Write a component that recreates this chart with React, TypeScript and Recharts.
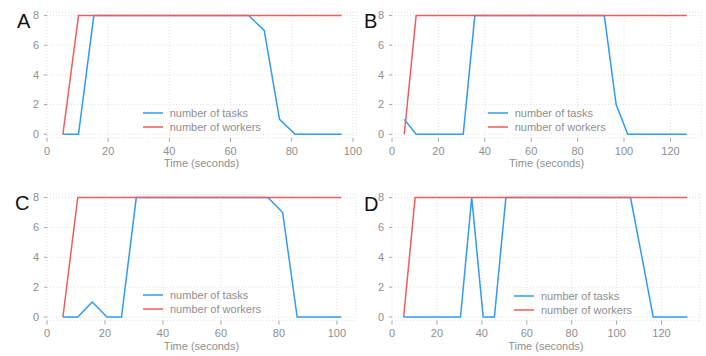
import React from "react";
import { LineChart, Line, XAxis, YAxis, CartesianGrid, Legend, Label } from "recharts";

const timesA = [5.2, 10.3, 15.3, 20.4, 25.4, 30.5, 35.6, 40.6, 45.7, 50.7, 55.8, 60.9, 65.9, 71.0, 76.0, 81.1, 86.2, 91.2, 96.3];
const tasksA = [0, 0, 8, 8, 8, 8, 8, 8, 8, 8, 8, 8, 8, 7, 1, 0, 0, 0, 0];
const workersA = [0, 8, 8, 8, 8, 8, 8, 8, 8, 8, 8, 8, 8, 8, 8, 8, 8, 8, 8];

const timesB = [5.3, 10.4, 15.4, 20.5, 25.6, 30.7, 35.7, 40.8, 45.9, 50.9, 56.0, 61.1, 66.1, 71.2, 76.3, 81.4, 86.4, 91.5, 96.6, 101.6, 106.7, 111.8, 116.8, 121.9, 127.0];
const tasksB = [1, 0, 0, 0, 0, 0, 8, 8, 8, 8, 8, 8, 8, 8, 8, 8, 8, 8, 2, 0, 0, 0, 0, 0, 0];
const workersB = [0, 8, 8, 8, 8, 8, 8, 8, 8, 8, 8, 8, 8, 8, 8, 8, 8, 8, 8, 8, 8, 8, 8, 8, 8];

const timesC = [5.5, 10.6, 15.6, 20.7, 25.7, 30.8, 35.8, 40.9, 45.9, 51.0, 56.0, 61.1, 66.1, 71.2, 76.2, 81.3, 86.3, 91.4, 96.4, 101.5];
const tasksC = [0, 0, 1, 0, 0, 8, 8, 8, 8, 8, 8, 8, 8, 8, 8, 7, 0, 0, 0, 0];
const workersC = [0, 8, 8, 8, 8, 8, 8, 8, 8, 8, 8, 8, 8, 8, 8, 8, 8, 8, 8, 8];

const timesD = [5.2, 10.3, 15.3, 20.4, 25.4, 30.5, 35.5, 40.6, 45.6, 50.7, 55.7, 60.8, 65.8, 70.9, 75.9, 81.0, 86.0, 91.1, 96.1, 101.2, 106.2, 111.3, 116.3, 121.4, 126.4, 131.5];
const tasksD = [0, 0, 0, 0, 0, 0, 8, 0, 0, 8, 8, 8, 8, 8, 8, 8, 8, 8, 8, 8, 8, 4, 0, 0, 0, 0];
const workersD = [0, 8, 8, 8, 8, 8, 8, 8, 8, 8, 8, 8, 8, 8, 8, 8, 8, 8, 8, 8, 8, 8, 8, 8, 8, 8];

const xTicks100 = [0, 20, 40, 60, 80, 100];
const xTicks120 = [0, 20, 40, 60, 80, 100, 120];
const yTicks = [0, 2, 4, 6, 8];

const BLUE = "#2f9bf2";
const RED = "#ee5d5d";
const GRAY = "#8f8f8f";
const FONT = "'Liberation Sans', Arial, sans-serif";

const panels = [
  { letter: "A", times: timesA, tasks: tasksA, workers: workersA, xMax: 101.1, xTicks: xTicks100,
    plot: { left: 46.7, top: 11.9, width: 309.3, height: 125.8 }, leg: { dx: 96, dy: 101.5 }, lab: { left: 17, top: 11.4 } },
  { letter: "B", times: timesB, tasks: tasksB, workers: workersB, xMax: 133.3, xTicks: xTicks120,
    plot: { left: 391.7, top: 11.9, width: 309.3, height: 125.8 }, leg: { dx: 96, dy: 101.5 }, lab: { left: 364, top: 11.4 } },
  { letter: "C", times: timesC, tasks: tasksC, workers: workersC, xMax: 106.6, xTicks: xTicks100,
    plot: { left: 46.7, top: 193.9, width: 309, height: 126.6 }, leg: { dx: 96.3, dy: 101.3 }, lab: { left: 15, top: 193 } },
  { letter: "D", times: timesD, tasks: tasksD, workers: workersD, xMax: 137, xTicks: xTicks120,
    plot: { left: 392.3, top: 193.9, width: 307.7, height: 126.6 }, leg: { dx: 121.7, dy: 102.3 }, lab: { left: 364, top: 193.5 } },
];

const YW = 50;
const TOP = 14;
const XH = 34;

function LegendBox({ payload }: any) {
  return (
    <div style={{ fontFamily: FONT, fontSize: 11, color: GRAY }}>
      {(payload || []).map((p: any) => (
        <div key={p.value} style={{ display: "flex", alignItems: "center", height: 14, whiteSpace: "nowrap" }}>
          <svg width={20} height={14} style={{ display: "block" }}>
            <line x1={0} x2={20} y1={7} y2={7} stroke={p.color} strokeWidth={1.5} />
          </svg>
          <span style={{ marginLeft: 7 }}>{p.value}</span>
        </div>
      ))}
    </div>
  );
}

function Panel({ cfg }: { cfg: (typeof panels)[number] }) {
  const data = cfg.times.map((t, i) => ({ t, tasks: cfg.tasks[i], workers: cfg.workers[i] }));
  const { plot } = cfg;
  const w = plot.width + YW + 8;
  const h = plot.height + TOP + 40;
  const tick = { fill: GRAY, fontSize: 11, fontFamily: FONT };
  return (
    <div style={{ position: "absolute", left: plot.left - YW, top: plot.top - TOP, width: w, height: h }}>
      <LineChart width={w} height={h} data={data} margin={{ top: TOP, right: 8, left: 0, bottom: 40 - XH }}>
        <CartesianGrid stroke="#e2e2e2" strokeDasharray="1 2" />
        <XAxis type="number" dataKey="t" domain={[0, cfg.xMax]} ticks={cfg.xTicks} height={XH}
          axisLine={false} tickLine={{ stroke: "#a8a8a8" }} tickSize={4} tickMargin={5} tick={tick} allowDataOverflow>
          <Label value="Time (seconds)" position="insideBottom" offset={5} fill={GRAY} fontSize={11} fontFamily={FONT} />
        </XAxis>
        <YAxis type="number" domain={[-0.24, 8.24]} ticks={yTicks} width={YW}
          axisLine={false} tickLine={{ stroke: "#a8a8a8" }} tickSize={3} tickMargin={5} tick={tick} />
        <Legend layout="horizontal" verticalAlign="middle" align="center" content={<LegendBox />}
          wrapperStyle={{ left: YW + cfg.leg.dx, top: TOP + cfg.leg.dy - 7, width: 160 }} />
        <Line type="linear" dataKey="tasks" name="number of tasks" stroke={BLUE} strokeWidth={1.5} dot={false} isAnimationActive={false} />
        <Line type="linear" dataKey="workers" name="number of workers" stroke={RED} strokeWidth={1.5} dot={false} isAnimationActive={false} />
      </LineChart>
    </div>
  );
}

export default function App() {
  return (
    <div style={{ position: "absolute", left: 0, top: 0, width: 706, height: 356, background: "#fff", overflow: "hidden" }}>
      {panels.map((p) => (
        <Panel key={p.letter} cfg={p} />
      ))}
      {panels.map((p) => (
        <div key={"l" + p.letter} style={{ position: "absolute", left: p.lab.left, top: p.lab.top, fontFamily: FONT, fontSize: 20, lineHeight: "20px", color: "#111" }}>
          {p.letter}
        </div>
      ))}
    </div>
  );
}
